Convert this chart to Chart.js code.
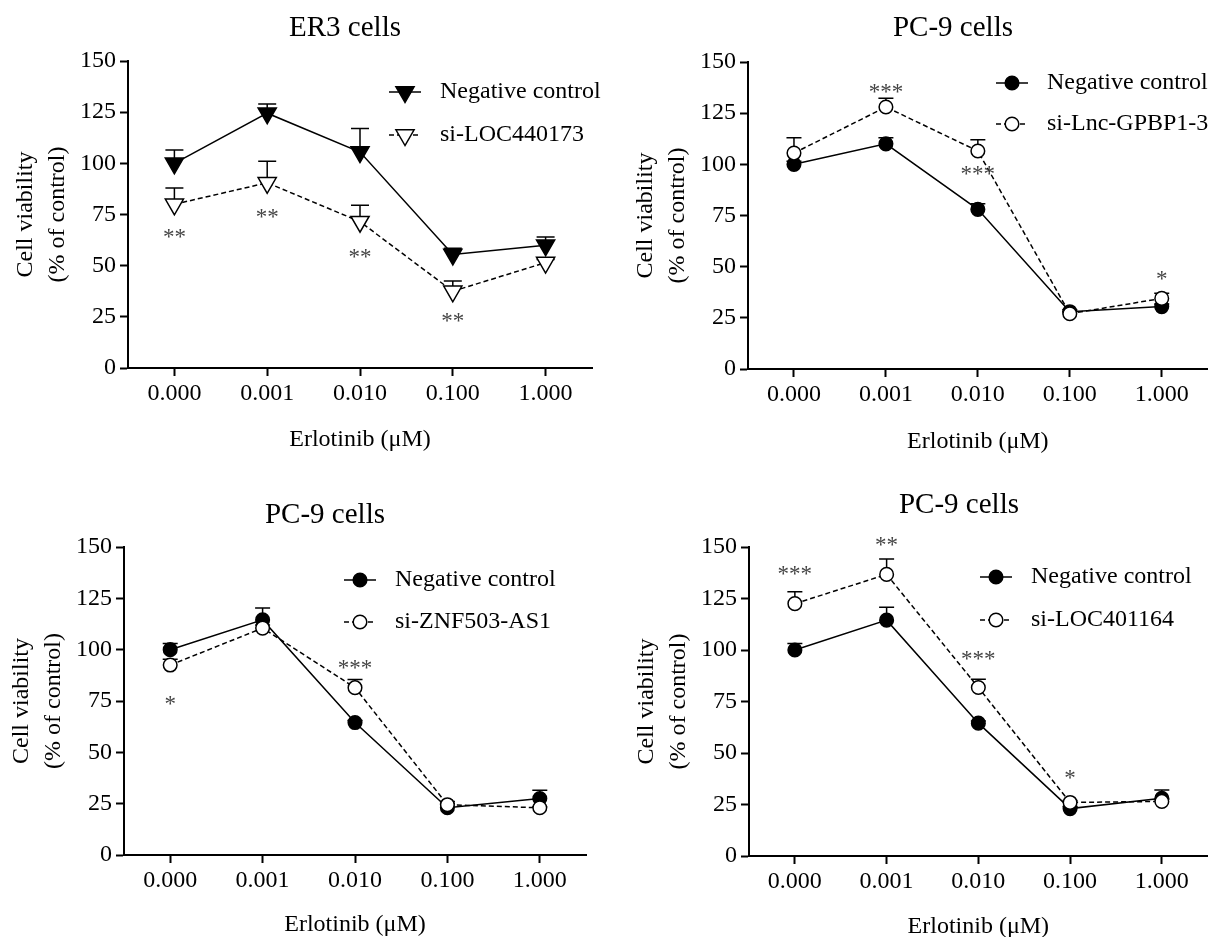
<!DOCTYPE html>
<html>
<head>
<meta charset="utf-8">
<script src="https://cdn.jsdelivr.net/npm/chart.js"></script>
<style>
  body { margin: 0; background: #fff; }
  #wrap { position: relative; width: 1216px; height: 937px; overflow: hidden; background: #fff; }
  canvas { position: absolute; }
</style>
</head>
<body>
<div id="wrap">
  <canvas id="panel1" width="608" height="468" style="left:0;top:0"></canvas>
  <canvas id="panel2" width="608" height="468" style="left:608px;top:0"></canvas>
  <canvas id="panel3" width="608" height="469" style="left:0;top:468px"></canvas>
  <canvas id="panel4" width="608" height="469" style="left:608px;top:468px"></canvas>
</div>
<script>
// Shared axis data
const doses = ['0.000', '0.001', '0.010', '0.100', '1.000'];
const yTickStep = 25;
const yMin = 0;
const yMax = 150;

// ER3 cells: Negative control vs si-LOC440173
const er3Control = [100, 124.5, 105.5, 55.5, 60];
const er3ControlErr = [6.5, 4.5, 11.5, 3, 4];
const er3Si = [80, 90.5, 71.5, 37.5, 51.5];
const er3SiErr = [8, 10.5, 8, 5, 1.5];
const er3Stars = ['**', '**', '**', '**', ''];
const er3StarY = [66, 75.5, 56, 25, null];

// PC-9 cells: Negative control vs si-Lnc-GPBP1-3
const gpbControl = [100, 110, 78, 28, 30.5];
const gpbControlErr = [1.5, 3, 2.8, 1, 1.2];
const gpbSi = [105.5, 128, 106.5, 27, 34.5];
const gpbSiErr = [7.5, 4.3, 5.5, 1, 2.5];
const gpbStars = ['', '***', '***', '', '*'];
const gpbStarY = [null, 137.5, 97, null, 46];

// PC-9 cells: Negative control vs si-ZNF503-AS1
const znfControl = [100, 114.5, 64.5, 23, 27.5];
const znfControlErr = [3, 5.8, 1, 2, 4];
const znfSi = [92.5, 110.5, 81.5, 24.5, 23];
const znfSiErr = [2.8, 1.5, 4, 1.5, 0.5];
const znfStars = ['*', '', '***', '', ''];
const znfStarY = [75.5, null, 93, null, null];

// PC-9 cells: Negative control vs si-LOC401164
const locControl = [100, 114.5, 64.5, 23, 28];
const locControlErr = [3.2, 6.2, 1, 1, 4];
const locSi = [122.5, 136.7, 81.8, 26, 26.5];
const locSiErr = [5.8, 7.5, 4, 1, 1];
const locStars = ['***', '**', '***', '*', ''];
const locStarY = [138.7, 153, 97.5, 40, null];

const FONT = '"Liberation Serif", "Times New Roman", Times, serif';

function drawMarker(ctx, style, x, y, r, fill) {
  ctx.save();
  ctx.fillStyle = fill;
  ctx.strokeStyle = '#000';
  ctx.lineWidth = 1.5;
  ctx.setLineDash([]);
  ctx.beginPath();
  if (style === 'triangle') {
    // pointing down, same as pointRotation 180
    ctx.moveTo(x, y + r);
    ctx.lineTo(x - r * 0.866, y - r / 2);
    ctx.lineTo(x + r * 0.866, y - r / 2);
    ctx.closePath();
  } else {
    ctx.arc(x, y, r, 0, Math.PI * 2);
  }
  ctx.fill();
  ctx.stroke();
  ctx.restore();
}

// error bars, asterisks, title and legend
const panelExtras = {
  id: 'panelExtras',
  beforeDatasetsDraw(chart) {
    const ctx = chart.ctx;
    const yScale = chart.scales.y;
    chart.data.datasets.forEach((ds, i) => {
      const meta = chart.getDatasetMeta(i);
      ctx.save();
      ctx.strokeStyle = '#000';
      ctx.lineWidth = 1.5;
      meta.data.forEach((pt, j) => {
        const top = yScale.getPixelForValue(ds.data[j] + ds.errors[j]);
        const cap = ds.pointStyle === 'triangle' ? 9 : 7.5;
        ctx.beginPath();
        ctx.moveTo(pt.x, pt.y);
        ctx.lineTo(pt.x, top);
        ctx.moveTo(pt.x - cap, top);
        ctx.lineTo(pt.x + cap, top);
        ctx.stroke();
      });
      ctx.restore();
    });
  },
  afterDraw(chart, args, opts) {
    const ctx = chart.ctx;
    const xScale = chart.scales.x;
    const yScale = chart.scales.y;

    // significance marks
    ctx.save();
    ctx.fillStyle = '#444';
    ctx.font = '23px ' + FONT;
    ctx.textAlign = 'center';
    ctx.textBaseline = 'alphabetic';
    opts.stars.forEach((s, j) => {
      if (!s) return;
      const px = xScale.getPixelForValue(j);
      const py = yScale.getPixelForValue(opts.starY[j]);
      ctx.fillText(s, px, py + 11);
    });
    ctx.restore();

    // panel title
    ctx.save();
    ctx.fillStyle = '#000';
    ctx.font = '29px ' + FONT;
    ctx.textAlign = 'center';
    ctx.textBaseline = 'middle';
    ctx.fillText(opts.title, opts.titleX, opts.titleY);
    ctx.restore();

    // legend
    chart.data.datasets.forEach((ds, i) => {
      const ly = opts.legendY[i];
      const lx = opts.legendX;
      ctx.save();
      ctx.strokeStyle = '#000';
      ctx.lineWidth = 1.5;
      ctx.setLineDash(ds.borderDash || []);
      ctx.beginPath();
      ctx.moveTo(lx - 16, ly);
      ctx.lineTo(lx + 16, ly);
      ctx.stroke();
      ctx.restore();
      drawMarker(ctx, ds.pointStyle, lx, ly, ds.pointRadius, ds.pointBackgroundColor);
      ctx.save();
      ctx.fillStyle = '#000';
      ctx.font = '24px ' + FONT;
      ctx.textAlign = 'left';
      ctx.textBaseline = 'middle';
      ctx.fillText(ds.label, opts.legendTextX, ly);
      ctx.restore();
    });
  }
};

function makePanel(id, p) {
  const isTri = p.marker === 'triangle';
  const radius = isTri ? 10.5 : 6.8;
  const canvas = document.getElementById(id);
  const lineDefaults = {
    borderColor: '#000',
    borderWidth: 1.5,
    pointStyle: p.marker,
    pointRotation: isTri ? 180 : 0,
    pointRadius: radius,
    pointHoverRadius: radius,
    pointBorderColor: '#000',
    pointBorderWidth: 1.5,
    tension: 0,
    fill: false
  };
  const tickFont = { family: FONT, size: 24 };
  const axisGrid = {
    display: true,
    drawOnChartArea: false,
    drawTicks: true,
    tickLength: 8,
    tickWidth: 2,
    tickColor: '#000',
    color: '#000'
  };
  return new Chart(canvas, {
    type: 'line',
    data: {
      labels: doses,
      datasets: [
        Object.assign({}, lineDefaults, {
          label: 'Negative control',
          data: p.control,
          errors: p.controlErr,
          order: 1,
          pointBackgroundColor: '#000'
        }),
        Object.assign({}, lineDefaults, {
          label: p.siName,
          data: p.si,
          errors: p.siErr,
          order: 0,
          borderDash: [5, 3],
          pointBackgroundColor: '#fff'
        })
      ]
    },
    options: {
      responsive: false,
      animation: false,
      layout: {
        padding: { left: 0, right: 608 - p.area.right, top: p.area.top, bottom: 0 }
      },
      plugins: {
        legend: { display: false },
        tooltip: { enabled: false },
        panelExtras: {
          title: p.title,
          titleX: p.titleX,
          titleY: p.titleY,
          legendX: p.legendX,
          legendTextX: p.legendX + 35,
          legendY: p.legendY,
          stars: p.stars,
          starY: p.starY
        }
      },
      scales: {
        x: {
          type: 'category',
          offset: true,
          grid: axisGrid,
          border: { display: true, color: '#000', width: 2 },
          ticks: { color: '#000', font: tickFont, padding: 3, maxRotation: 0, autoSkip: false },
          title: {
            display: true,
            text: 'Erlotinib (\u03bcM)',
            color: '#000',
            font: { family: FONT, size: 24, lineHeight: 1 },
            padding: { top: 0, bottom: p.canvasH - p.xTitleY - 12 }
          },
          afterFit(scale) { scale.height = p.canvasH - p.area.bottom; }
        },
        y: {
          min: yMin,
          max: yMax,
          grid: axisGrid,
          border: { display: true, color: '#000', width: 2 },
          ticks: { stepSize: yTickStep, color: '#000', font: tickFont, padding: 4 },
          title: {
            display: true,
            text: ['Cell viability', '(% of control)'],
            color: '#000',
            font: { family: FONT, size: 24, lineHeight: 32 / 24 },
            padding: { top: p.area.left - 118, bottom: 0 }
          },
          afterFit(scale) { scale.width = p.area.left; }
        }
      }
    },
    plugins: [panelExtras]
  });
}

makePanel('panel1', {
  title: 'ER3 cells', titleX: 345, titleY: 28,
  marker: 'triangle', siName: 'si-LOC440173',
  control: er3Control, controlErr: er3ControlErr, si: er3Si, siErr: er3SiErr,
  stars: er3Stars, starY: er3StarY,
  area: { left: 128, right: 592, top: 61, bottom: 368 }, canvasH: 468, xTitleY: 440,
  legendX: 405, legendY: [92, 135]
});

makePanel('panel2', {
  title: 'PC-9 cells', titleX: 345, titleY: 28,
  marker: 'circle', siName: 'si-Lnc-GPBP1-3',
  control: gpbControl, controlErr: gpbControlErr, si: gpbSi, siErr: gpbSiErr,
  stars: gpbStars, starY: gpbStarY,
  area: { left: 140, right: 606, top: 62, bottom: 369 }, canvasH: 468, xTitleY: 442,
  legendX: 404, legendY: [83, 124]
});

makePanel('panel3', {
  title: 'PC-9 cells', titleX: 325, titleY: 47,
  marker: 'circle', siName: 'si-ZNF503-AS1',
  control: znfControl, controlErr: znfControlErr, si: znfSi, siErr: znfSiErr,
  stars: znfStars, starY: znfStarY,
  area: { left: 124, right: 586, top: 79, bottom: 387 }, canvasH: 469, xTitleY: 457,
  legendX: 360, legendY: [112, 154]
});

makePanel('panel4', {
  title: 'PC-9 cells', titleX: 351, titleY: 37,
  marker: 'circle', siName: 'si-LOC401164',
  control: locControl, controlErr: locControlErr, si: locSi, siErr: locSiErr,
  stars: locStars, starY: locStarY,
  area: { left: 141, right: 606, top: 79, bottom: 388 }, canvasH: 469, xTitleY: 459,
  legendX: 388, legendY: [109, 152]
});
</script>
</body>
</html>
